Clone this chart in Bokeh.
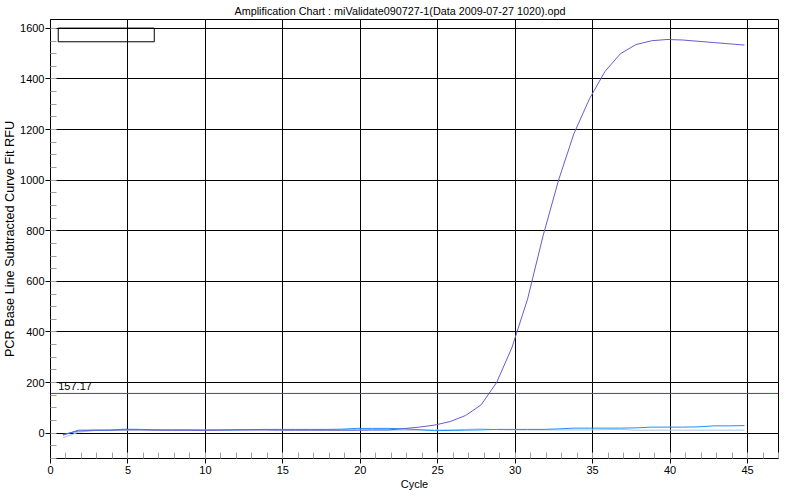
from bokeh.plotting import figure
from bokeh.models import SingleIntervalTicker, Span, Label, BoxAnnotation, Range1d
from bokeh.embed import file_html
from bokeh.resources import INLINE

# ---- data ----
cycles = list(range(1, 46))
x_shift = -0.2  # readings are plotted slightly before the cycle tick

well_a = [-8, 12, 12, 12, 13, 13, 12, 12, 12, 11, 12, 13, 13, 13, 12, 12, 12, 12, 12, 12,
          13, 13, 18, 24, 32, 46, 70, 112, 200, 340, 530, 780, 1000, 1185, 1322, 1430, 1500,
          1536, 1551, 1556, 1554, 1549, 1544, 1539, 1534]
well_b = [-5, 8, 12, 12, 16, 15, 13, 13, 13, 13, 13, 13, 14, 15, 15, 15, 15, 15, 16, 19,
          19, 19, 17, 14, 10, 11, 12, 13, 15, 15, 15, 15, 17, 20, 20, 20, 20, 21, 24, 24,
          24, 25, 29, 29, 30]
well_c = [-18, 4, 10, 12, 12, 13, 13, 12, 12, 12, 12, 12, 13, 13, 13, 12, 12, 12, 12, 12,
          12, 12, 12, 12, 13, 13, 15, 17, 14, 13, 13, 13, 13, 13, 13, 14, 15, 12, 12, 12,
          12, 12, 12, 12, 12]
threshold = 157.17
x_ticks_interval = 5
y_ticks_interval = 200
x_label = "Cycle"
y_label = "PCR Base Line Subtracted Curve Fit RFU"
title = "Amplification Chart : miValidate090727-1(Data 2009-07-27 1020).opd"

xs = [c + x_shift for c in cycles]

FONT = "Liberation Sans"

p = figure(frame_width=728, frame_height=439, output_backend="svg", toolbar_location=None,
           x_range=Range1d(0, 47), y_range=Range1d(-100, 1635),
           min_border_left=0, min_border_right=6, min_border_top=0, min_border_bottom=0,
           title=title)

p.title.text_font = FONT
p.title.text_font_size = "10.8px"
p.title.text_font_style = "normal"
p.title.text_color = "black"
p.title.align = "left"
p.title.offset = 184
p.title.standoff = 5

p.outline_line_color = "black"
p.outline_line_alpha = 1
p.outline_line_width = 1
p.background_fill_color = "white"
p.border_fill_color = "white"

p.xaxis.ticker = SingleIntervalTicker(interval=x_ticks_interval, num_minor_ticks=5)
p.yaxis.ticker = SingleIntervalTicker(interval=y_ticks_interval, num_minor_ticks=4)

for ax in (p.xaxis[0], p.yaxis[0]):
    ax.axis_line_color = "black"
    ax.major_tick_line_color = "black"
    ax.major_tick_out = 5
    ax.major_tick_in = 0
    ax.minor_tick_line_color = "#a0a0a0"
    ax.minor_tick_in = 6
    ax.minor_tick_out = 0
    ax.major_label_text_font = FONT
    ax.major_label_text_font_size = "11px"
    ax.major_label_text_color = "black"
    ax.axis_label_text_font = FONT
    ax.axis_label_text_font_style = "normal"
    ax.axis_label_text_color = "black"
    ax.major_label_standoff = 2

p.xaxis.axis_label = x_label
p.xaxis.axis_label_text_font_size = "11px"
p.xaxis.axis_label_standoff = 1

p.yaxis.axis_label = y_label
p.yaxis.axis_label_text_font_size = "12.7px"
p.yaxis.axis_label_standoff = 0
p.yaxis.major_label_standoff = 1

p.xgrid.grid_line_color = "black"
p.ygrid.grid_line_color = "black"
p.xgrid.grid_line_alpha = 1
p.ygrid.grid_line_alpha = 1

p.line(xs, well_c, line_color="#b0c4de", line_width=1)
p.line(xs, well_b, line_color="#1e90ff", line_width=1)
p.line(xs, well_a, line_color="#6a5acd", line_width=1)

p.add_layout(Span(location=threshold, dimension="width", line_color="#216e21", line_width=1))
p.add_layout(Label(x=0.5, y=threshold, y_offset=3, text=f"{threshold:.2f}",
                   text_font=FONT, text_font_size="11px", text_color="black"))

# empty legend box
p.add_layout(BoxAnnotation(left=0.5, right=6.7, bottom=1547, top=1601,
                           fill_alpha=0, line_color="black", line_width=1, line_alpha=1))

open("out.html", "w").write(file_html(p, INLINE))
